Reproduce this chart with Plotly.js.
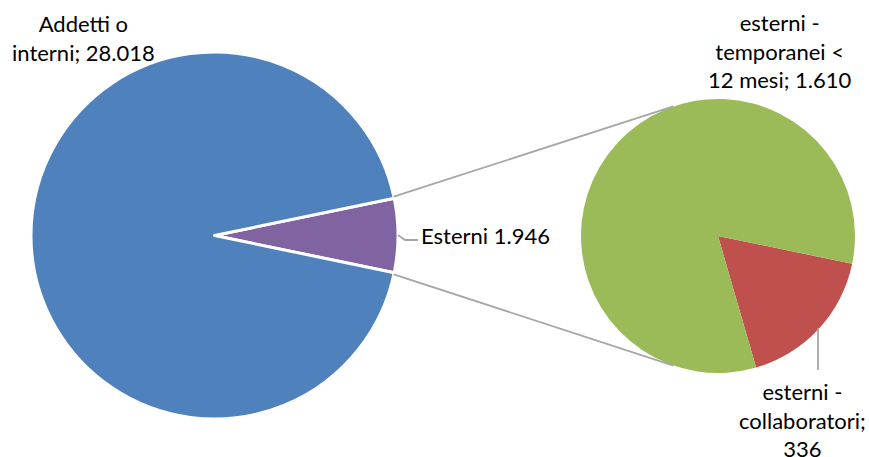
<!DOCTYPE html>
<html>
<head>
<meta charset="utf-8">
<script src="https://cdn.plot.ly/plotly-3.0.1.min.js"></script>
<style>html,body{margin:0;padding:0;background:#fff;}#chart{width:869px;height:457px;}</style>
</head>
<body>
<div id="chart"></div>
<script>
// ---- data ----
const mainLabels = ["Esterni", "Addetti o interni"];
const mainValues = [1946, 28018];
const subLabels = ["esterni - collaboratori", "esterni - temporanei < 12 mesi"];
const subValues = [336, 1610];
const labelTexts = ["Addetti o<br>interni; 28.018", "Esterni 1.946", "esterni -<br>temporanei <<br>12 mesi; 1.610", "esterni -<br>collaboratori;<br>336"];

const W = 869, H = 457;
const px = x => x / W, py = y => 1 - y / H;

const mainTotal = mainValues.reduce((a, b) => a + b, 0);
const halfDeg = 180 * mainValues[0] / mainTotal;   // half-angle of the exploded wedge

// geometry (pixels)
const mainBox = {x0: 31, x1: 398, y0: 52, y1: 419};
const subBox = {x0: 581, x1: 855, y0: 99, y1: 373};
const mc = {x: (mainBox.x0 + mainBox.x1) / 2, y: (mainBox.y0 + mainBox.y1) / 2, r: (mainBox.x1 - mainBox.x0) / 2 - 1.5};
const sc = {x: (subBox.x0 + subBox.x1) / 2, y: (subBox.y0 + subBox.y1) / 2, r: (subBox.x1 - subBox.x0) / 2};

const a = halfDeg * Math.PI / 180;
const pTop = {x: mc.x + mc.r * Math.cos(a), y: mc.y - mc.r * Math.sin(a)};
const pBot = {x: mc.x + mc.r * Math.cos(a), y: mc.y + mc.r * Math.sin(a)};
const b = 109 * Math.PI / 180;
const qTop = {x: sc.x + sc.r * Math.cos(b), y: sc.y - sc.r * Math.sin(b)};
const qBot = {x: sc.x + sc.r * Math.cos(b), y: sc.y + sc.r * Math.sin(b)};

const grey = "#A6A6A6";
const font = {family: "Lato, 'Open Sans', sans-serif", size: 22, color: "#000000"};

const traces = [
  {
    type: "pie", labels: mainLabels, values: mainValues, sort: false,
    direction: "clockwise", rotation: 90 - halfDeg,
    marker: {colors: ["#8064A2", "#4F81BD"], line: {color: "#FFFFFF", width: 3}},
    textinfo: "none", hoverinfo: "label+value",
    domain: {x: [px(mainBox.x0), px(mainBox.x1)], y: [py(mainBox.y1), py(mainBox.y0)]},
    showlegend: false
  },
  {
    type: "pie", labels: subLabels, values: subValues, sort: false,
    direction: "clockwise", rotation: 90 + halfDeg,
    marker: {colors: ["#C0504D", "#9BBB59"], line: {color: "#FFFFFF", width: 0}},
    textinfo: "none", hoverinfo: "label+value",
    domain: {x: [px(subBox.x0), px(subBox.x1)], y: [py(subBox.y1), py(subBox.y0)]},
    showlegend: false
  }
];

const shapes = [
  {type: "line", xref: "paper", yref: "paper", x0: px(pTop.x + 1), y0: py(pTop.y - 2), x1: px(qTop.x), y1: py(qTop.y), line: {color: grey, width: 1.8}},
  {type: "line", xref: "paper", yref: "paper", x0: px(pBot.x + 1), y0: py(pBot.y + 2), x1: px(qBot.x), y1: py(qBot.y), line: {color: grey, width: 1.8}},
  {type: "path", xref: "paper", yref: "paper",
   path: `M ${px(398)} ${py(235)} L ${px(405)} ${py(240)} L ${px(418)} ${py(240)}`, line: {color: grey, width: 1.8}},
  {type: "line", xref: "paper", yref: "paper", x0: px(818), y0: py(328), x1: px(818), y1: py(370), line: {color: grey, width: 1.8}}
];

const annotations = [
  {text: labelTexts[0], x: px(83), y: py(38), xanchor: "center", yanchor: "middle"},
  {text: labelTexts[1], x: px(419), y: py(235), xanchor: "left", yanchor: "middle"},
  {text: labelTexts[2], x: px(780), y: py(51), xanchor: "center", yanchor: "middle"},
  {text: labelTexts[3], x: px(802), y: py(420), xanchor: "center", yanchor: "middle"}
].map(o => Object.assign({xref: "paper", yref: "paper", showarrow: false, font: font, align: "center"}, o));

const layout = {
  width: W, height: H,
  margin: {l: 0, r: 0, t: 0, b: 0},
  paper_bgcolor: "#FFFFFF", plot_bgcolor: "#FFFFFF",
  shapes: shapes, annotations: annotations, showlegend: false
};

Plotly.newPlot("chart", traces, layout, {displayModeBar: false, staticPlot: true});
</script>
</body>
</html>
